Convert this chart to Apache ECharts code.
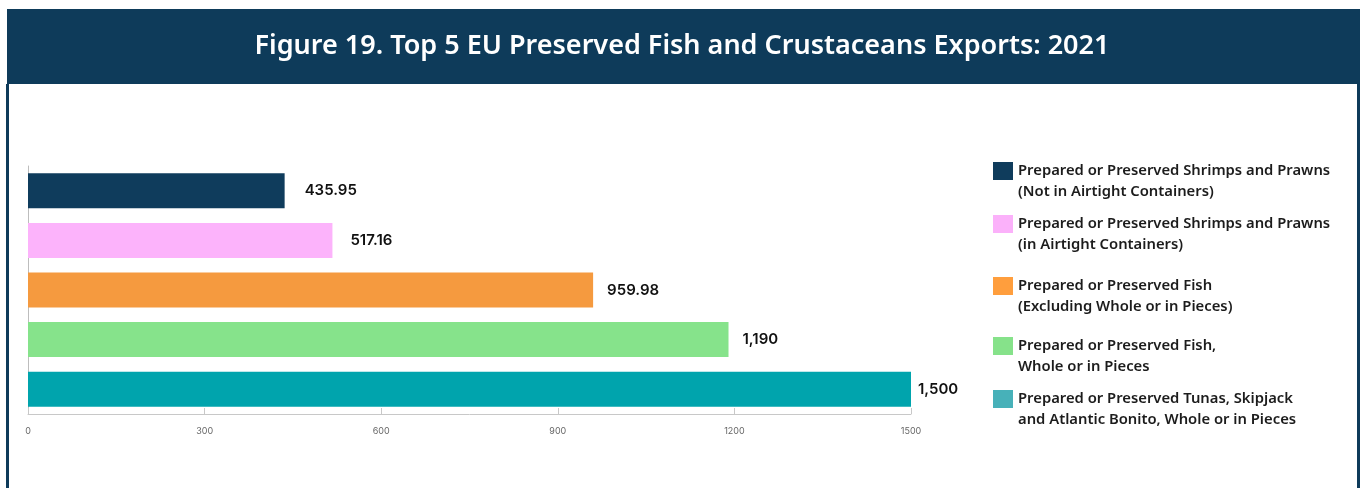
<!DOCTYPE html>
<html>
<head>
<meta charset="utf-8">
<script src="https://cdn.jsdelivr.net/npm/echarts@6/dist/echarts.min.js"></script>
<style>
  html, body { margin: 0; padding: 0; background: #ffffff; }
  #chart { width: 1364px; height: 488px; }
</style>
</head>
<body>
<div id="chart"></div>
<script>
// Export categories (legend labels, two lines each)
const categories = [
  'Prepared or Preserved Shrimps and Prawns\n(Not in Airtight Containers)',
  'Prepared or Preserved Shrimps and Prawns\n(in Airtight Containers)',
  'Prepared or Preserved Fish\n(Excluding Whole or in Pieces)',
  'Prepared or Preserved Fish,\nWhole or in Pieces',
  'Prepared or Preserved Tunas, Skipjack\nand Atlantic Bonito, Whole or in Pieces'
];
// Export value per category
const values = [435.95, 517.16, 959.98, 1190, 1500];
// Axis ticks
const xTicks = [0, 300, 600, 900, 1200, 1500];

const barColors = ['#0f3c5c', '#fcb3fb', '#f59a3f', '#86e38b', '#00a4ad'];
const legendColors = ['#0f3c5c', '#fbb1fa', '#ff9e3d', '#86e28a', '#47b1b9'];
const legendTops = [162, 215, 277, 337, 390];
const labelGaps = [20, 18, 14, 14, 7];

const fmt = v => v.toLocaleString('en-US', { maximumFractionDigits: 2 });

const chart = echarts.init(document.getElementById('chart'), null, { renderer: 'canvas' });

const series = categories.map((name, i) => ({
  type: 'bar',
  name: name,
  data: values.map((v, j) => (j === i ? v : '-')),
  barWidth: 35,
  barGap: '-100%',
  itemStyle: { color: barColors[i] },
  label: {
    show: true,
    position: 'right',
    distance: labelGaps[i],
    formatter: p => fmt(p.value),
    color: '#111111',
    fontFamily: 'Inter',
    fontWeight: 600,
    fontSize: 15
  },
  emphasis: { disabled: true }
}));

// A leading blank line keeps the swatch level with the first text line
const legends = categories.map((name, i) => ({
  data: [{ name: name, itemStyle: { color: legendColors[i] } }],
  formatter: n => '\n' + n,
  left: 993,
  top: legendTops[i] - 22.5,
  padding: 0,
  orient: 'vertical',
  icon: 'rect',
  itemWidth: 20,
  itemHeight: 18,
  selectedMode: false,
  textStyle: {
    color: '#1c1c1c',
    fontFamily: 'Noto Sans',
    fontWeight: 600,
    fontSize: 14.8,
    lineHeight: 21
  }
}));

chart.setOption({
  animation: false,
  backgroundColor: '#ffffff',
  title: {
    text: 'Figure 19. Top 5 EU Preserved Fish and Crustaceans Exports: 2021',
    left: 'center',
    top: 28,
    z: 10,
    textStyle: {
      color: '#ffffff',
      fontFamily: 'Noto Sans',
      fontWeight: 600,
      fontSize: 27
    }
  },
  graphic: [
    { type: 'rect', z: -10, shape: { x: 7, y: 9, width: 1353, height: 75 }, style: { fill: '#0e3b5a' } },
    { type: 'rect', z: -10, shape: { x: 6, y: 84, width: 3, height: 404 }, style: { fill: '#0e3b5a' } },
    { type: 'rect', z: -10, shape: { x: 1357, y: 84, width: 3, height: 404 }, style: { fill: '#0e3b5a' } }
  ],
  legend: legends,
  grid: { left: 28, right: 453, top: 166, bottom: 74, containLabel: false },
  xAxis: {
    type: 'value',
    min: xTicks[0],
    max: xTicks[xTicks.length - 1],
    interval: xTicks[1] - xTicks[0],
    axisLine: { show: true, lineStyle: { color: '#c8c8c8', width: 1 } },
    axisTick: { show: true, inside: true, length: 6, lineStyle: { color: '#c8c8c8' } },
    splitLine: { show: false },
    axisLabel: {
      formatter: v => String(v),
      color: '#666666',
      fontFamily: 'Inter',
      fontSize: 9,
      margin: 13
    }
  },
  yAxis: {
    type: 'category',
    data: categories,
    inverse: true,
    axisLine: { show: true, lineStyle: { color: '#bdbdbd', width: 1 } },
    axisTick: { show: false },
    axisLabel: { show: false }
  },
  series: series
});
</script>
</body>
</html>
